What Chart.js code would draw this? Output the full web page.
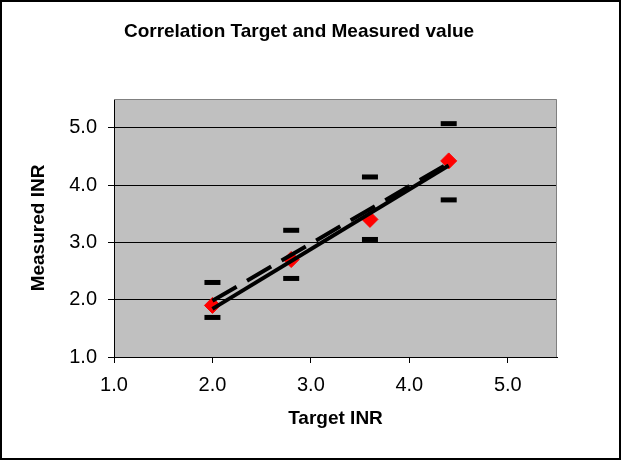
<!DOCTYPE html>
<html>
<head>
<meta charset="utf-8">
<title>Correlation Target and Measured value</title>
<script src="https://cdn.jsdelivr.net/npm/chart.js@4.4.1/dist/chart.umd.min.js"></script>
<style>
    html, body { margin: 0; padding: 0; background: #ffffff; }
    canvas { display: block; }
</style>
</head>
<body>
<canvas id="inrChart" width="621" height="460"></canvas>
<script>
// Data
const TARGET = [2.0, 2.8, 3.6, 4.4];
const MEASURED = [1.9, 2.7, 3.4, 4.42];
const UPPER = [2.3, 3.21, 4.14, 5.07];
const LOWER = [1.69, 2.37, 3.05, 3.74];

// trend line (solid) and reference line (dashed), end points only
const FIT_X = [2.0, 4.4];
const FIT_Y = [1.84, 4.34];
const REF_X = [2.0, 4.4];
const REF_Y = [1.98, 4.38];

// Axis ticks
const X_TICKS = [1, 2, 3, 4, 5];
const Y_TICKS = [1, 2, 3, 4, 5];

const FONT = 'Liberation Sans, Arial, sans-serif';

const toPoints = (xs, ys) => xs.map((x, i) => ({ x: x, y: ys[i] }));

// gray plot area, its frame and the outer frame + title
const chartDecor = {
    id: 'chartDecor',
    beforeDraw(chart) {
        const { ctx, chartArea: a } = chart;
        ctx.save();
        ctx.fillStyle = '#c0c0c0';
        ctx.fillRect(a.left, a.top, a.right - a.left, a.bottom - a.top);
        ctx.restore();
    },
    afterDraw(chart) {
        const { ctx, chartArea: a } = chart;
        ctx.save();
        ctx.strokeStyle = '#808080';
        ctx.lineWidth = 1;
        ctx.beginPath();
        ctx.moveTo(a.left, a.top + 0.5);
        ctx.lineTo(a.right - 0.5, a.top + 0.5);
        ctx.lineTo(a.right - 0.5, a.bottom);
        ctx.stroke();

        // outer border
        ctx.strokeStyle = '#000000';
        ctx.lineWidth = 2;
        ctx.strokeRect(1, 1, chart.width - 2, chart.height - 2);

        // title, sits left of the plot centre like in the original
        ctx.fillStyle = '#000000';
        ctx.font = 'bold 19px ' + FONT;
        ctx.textAlign = 'center';
        ctx.textBaseline = 'middle';
        ctx.fillText('Correlation Target and Measured value', 299, 32);
        ctx.restore();
    }
};

const ctx = document.getElementById('inrChart').getContext('2d');

const chart = new Chart(ctx, {
    type: 'scatter',
    data: {
        datasets: [
            {
                label: 'Trend',
                data: toPoints(FIT_X, FIT_Y),
                showLine: true,
                borderColor: '#000000',
                borderWidth: 4,
                pointRadius: 0,
                order: 0
            },
            {
                label: 'Reference',
                data: toPoints(REF_X, REF_Y),
                showLine: true,
                borderColor: '#000000',
                borderWidth: 4,
                borderDash: [28, 12],
                pointRadius: 0,
                order: 1
            },
            {
                label: 'Upper',
                data: toPoints(TARGET, UPPER),
                pointStyle: 'line',
                pointRadius: 8,
                borderColor: '#000000',
                borderWidth: 5,
                order: 2
            },
            {
                label: 'Lower',
                data: toPoints(TARGET, LOWER),
                pointStyle: 'line',
                pointRadius: 8,
                borderColor: '#000000',
                borderWidth: 5,
                order: 2
            },
            {
                label: 'Measured',
                data: toPoints(TARGET, MEASURED),
                pointStyle: 'rectRot',
                pointRadius: 8,
                backgroundColor: '#ff0000',
                borderColor: '#ff0000',
                borderWidth: 1,
                order: 3
            }
        ]
    },
    options: {
        responsive: false,
        animation: false,
        devicePixelRatio: 1,
        layout: {
            padding: { left: 10, right: 64, top: 99, bottom: 10 }
        },
        plugins: {
            legend: { display: false },
            tooltip: { enabled: false },
            title: { display: false }
        },
        scales: {
            x: {
                type: 'linear',
                min: 1,
                max: 5.5,
                afterFit: (scale) => { scale.height = 93; },
                afterBuildTicks: (scale) => { scale.ticks = X_TICKS.map(v => ({ value: v })); },
                grid: {
                    drawOnChartArea: false,
                    drawTicks: true,
                    tickLength: 6,
                    color: '#000000'
                },
                border: { color: '#000000', width: 1 },
                ticks: {
                    color: '#000000',
                    padding: 10,
                    font: { family: FONT, size: 20 },
                    callback: (v) => Number(v).toFixed(1)
                },
                title: {
                    display: true,
                    text: 'Target INR',
                    color: '#000000',
                    padding: { top: 0, bottom: 20 },
                    font: { family: FONT, size: 19, weight: 'bold' }
                }
            },
            y: {
                type: 'linear',
                min: 1,
                max: 5.5,
                afterFit: (scale) => { scale.width = 104; },
                afterBuildTicks: (scale) => { scale.ticks = Y_TICKS.map(v => ({ value: v })); },
                grid: {
                    drawTicks: true,
                    tickLength: 6,
                    color: '#000000'
                },
                border: { color: '#000000', width: 1 },
                ticks: {
                    color: '#000000',
                    padding: 11,
                    font: { family: FONT, size: 20 },
                    callback: (v) => Number(v).toFixed(1)
                },
                title: {
                    display: true,
                    text: 'Measured INR',
                    color: '#000000',
                    padding: { top: 17, bottom: 0 },
                    font: { family: FONT, size: 19, weight: 'bold' }
                }
            }
        }
    },
    plugins: [chartDecor]
});
</script>
</body>
</html>
